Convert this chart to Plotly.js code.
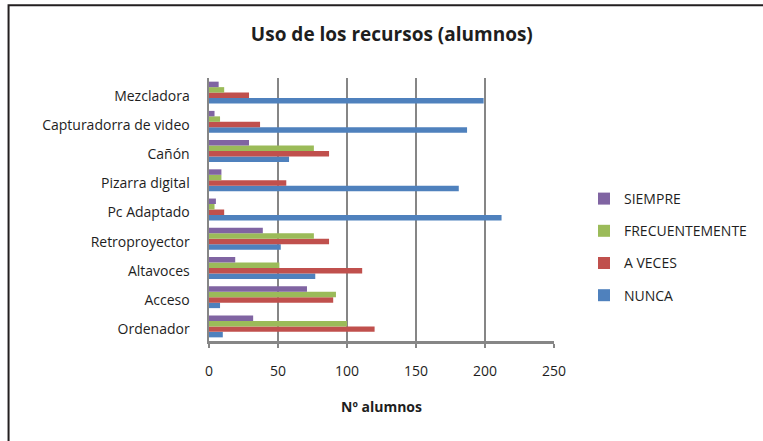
<!DOCTYPE html>
<html>
<head>
<meta charset="utf-8">
<script src="https://cdn.plot.ly/plotly-3.0.1.min.js"></script>
<style>html,body{margin:0;padding:0;background:#fff;}#chart{width:763px;height:441px;}</style>
</head>
<body>
<div id="chart"></div>
<script>
const categories = ["Ordenador", "Acceso", "Altavoces", "Retroproyector", "Pc Adaptado", "Pizarra digital", "Cañón", "Capturadorra de video", "Mezcladora"];
const nunca          = [10, 8, 77, 52, 212, 181, 58, 187, 199];
const aVeces         = [120, 90, 111, 87, 11, 56, 87, 37, 29];
const frecuentemente = [100, 92, 51, 76, 4, 9, 76, 8, 11];
const siempre        = [32, 71, 19, 39, 5, 9, 29, 4, 7];
const xTicks = [0, 50, 100, 150, 200, 250];

const font = "'Open Sans', 'Liberation Sans', sans-serif";
function tr(name, vals, color, rank) {
  return {type: 'bar', orientation: 'h', name: name, x: vals, y: categories, legendrank: rank,
          legendgroup: name, marker: {color: color, line: {width: 0}}, hoverinfo: 'x'};
}
const data = [
  tr('NUNCA', nunca, '#4F81BD', 4),
  tr('A VECES', aVeces, '#C0504D', 3),
  tr('FRECUENTEMENTE', frecuentemente, '#9BBB59', 2),
  tr('SIEMPRE', siempre, '#8064A2', 1)
];
const layout = {
  width: 763, height: 441,
  margin: {l: 209, r: 209, t: 78, b: 100, autoexpand: false},
  paper_bgcolor: '#fff', plot_bgcolor: '#fff',
  barmode: 'group', bargap: 0.25, bargroupgap: 0,
  font: {family: font, color: '#1e1e1e', size: 14},
  title: {text: '<b>Uso de los recursos (alumnos)</b>', font: {family: font, size: 19, color: '#1e1e1e'},
          x: 0.53, xref: 'paper', xanchor: 'center', y: 0.923, yref: 'container', yanchor: 'middle'},
  xaxis: {range: [0, 250], tickvals: xTicks, ticktext: xTicks.map(String),
          showgrid: true, gridcolor: '#868686', gridwidth: 2, zeroline: false,
          showline: true, linecolor: '#868686', linewidth: 2.5,
          ticks: 'outside', ticklen: 4, tickcolor: '#868686', tickwidth: 1.5,
          ticklabelstandoff: 12, tickfont: {size: 14, color: '#1e1e1e'},
          title: {text: '<b>Nº alumnos</b>', font: {size: 14, color: '#1e1e1e'}, standoff: 23}, fixedrange: true},
  yaxis: {type: 'category', categoryorder: 'array', categoryarray: categories,
          showgrid: false, zeroline: false, showline: true, linecolor: '#868686', linewidth: 2.5,
          ticks: '', ticklabelstandoff: 14, ticklabelshift: 3, tickfont: {size: 14, color: '#1e1e1e'}, fixedrange: true},
  legend: {traceorder: 'grouped', tracegroupgap: 11, xref: 'container', yref: 'container',
           x: 584 / 763, y: 1 - 183 / 441, xanchor: 'left', yanchor: 'top',
           font: {size: 14, color: '#1e1e1e'}, bgcolor: 'rgba(0,0,0,0)', itemwidth: 30},
  shapes: [{type: 'rect', xref: 'paper', yref: 'paper', x0: -0.581, x1: 2.2, y0: -0.8, y1: 1.277,
            line: {color: '#231f20', width: 2}, fillcolor: 'rgba(0,0,0,0)', layer: 'below'}]
};
Plotly.newPlot('chart', data, layout, {displayModeBar: false, staticPlot: true});
</script>
</body>
</html>
